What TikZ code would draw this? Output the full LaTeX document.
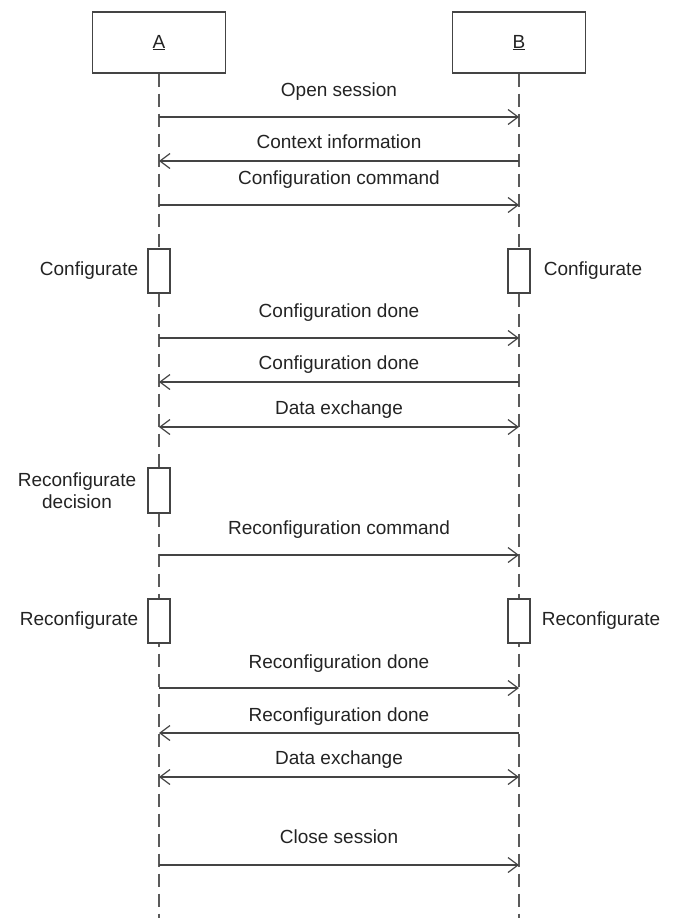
\documentclass[tikz,border=0pt]{standalone}
\usepackage{fontspec}
\setmainfont{Liberation Sans}
\usetikzlibrary{arrows.meta, positioning}
\definecolor{ink}{RGB}{35,35,35}

\begin{document}
\begin{tikzpicture}[x=1pt, y=-1pt, font=\fontsize{19}{22}\selectfont, text=ink,
    >={Straight Barb[length=10pt, width=15pt]},
    actor/.style={draw=ink!85, line width=1.4pt, minimum width=133pt, minimum height=61pt, inner sep=0pt},
    lifeline/.style={draw=ink!75, line width=1.3pt, dash pattern=on 13pt off 7pt},
    act/.style={draw=ink!85, fill=white, line width=1.3pt, minimum width=22pt, minimum height=44pt, inner sep=0pt},
    note/.style={inner sep=0pt},
    msg/.style={draw=ink!85, line width=1.2pt},
    lbl/.style={inner sep=0pt, text height=13.5pt, text depth=4pt}]
    \useasboundingbox (0,0) rectangle (673,918);

    % objects and lifelines
    \node[actor] (A) at (159,42.5) {\underline{A}};
    \node[actor] (B) at (519,42.5) {\underline{B}};
    \coordinate (Aend) at (159,918);
    \coordinate (Bend) at (519,918);
    \draw[lifeline] (A) -- (Aend);
    \draw[lifeline] (B) -- (Bend);

    % activations
    \node[act] (cfgA) at (159,271) {};
    \node[act] (cfgB) at (519,271) {};
    \node[act, minimum height=45pt] (decA) at (159,490.5) {};
    \node[act] (rcfA) at (159,621) {};
    \node[act] (rcfB) at (519,621) {};
    \node[note, left=9pt of cfgA] (cfgAl) {Configurate};
    \node[note, right=13pt of cfgB] (cfgBl) {Configurate};
    \node[note, left=11pt of decA, align=center] (decAl) {Reconfigurate\\decision};
    \node[note, left=9pt of rcfA] (rcfAl) {Reconfigurate};
    \node[note, right=11pt of rcfB] (rcfBl) {Reconfigurate};

    % message rows
    \foreach \n/\y in {1/117, 2/161, 3/205, 4/338, 5/382, 6/427, 7/555, 8/688, 9/733, 10/777, 11/865}
    {
        \coordinate (a\n) at (159,\y);
        \coordinate (b\n) at (519,\y);
    }
    \draw[msg, ->] (a1) -- node[lbl, above=16pt] (m1) {Open session} (b1);
    \draw[msg, <-] (a2) -- node[lbl, above=8pt] (m2) {Context information} (b2);
    \draw[msg, ->] (a3) -- node[lbl, above=16pt] (m3) {Configuration command} (b3);
    \draw[msg, ->] (a4) -- node[lbl, above=16pt] (m4) {Configuration done} (b4);
    \draw[msg, <-] (a5) -- node[lbl, above=8pt] (m5) {Configuration done} (b5);
    \draw[msg, <->] (a6) -- node[lbl, above=8pt] (m6) {Data exchange} (b6);
    \draw[msg, ->] (a7) -- node[lbl, above=16pt] (m7) {Reconfiguration command} (b7);
    \draw[msg, ->] (a8) -- node[lbl, above=15pt] (m8) {Reconfiguration done} (b8);
    \draw[msg, <-] (a9) -- node[lbl, above=7pt] (m9) {Reconfiguration done} (b9);
    \draw[msg, <->] (a10) -- node[lbl, above=8pt] (m10) {Data exchange} (b10);
    \draw[msg, ->] (a11) -- node[lbl, above=17pt] (m11) {Close session} (b11);
\end{tikzpicture}
\end{document}
